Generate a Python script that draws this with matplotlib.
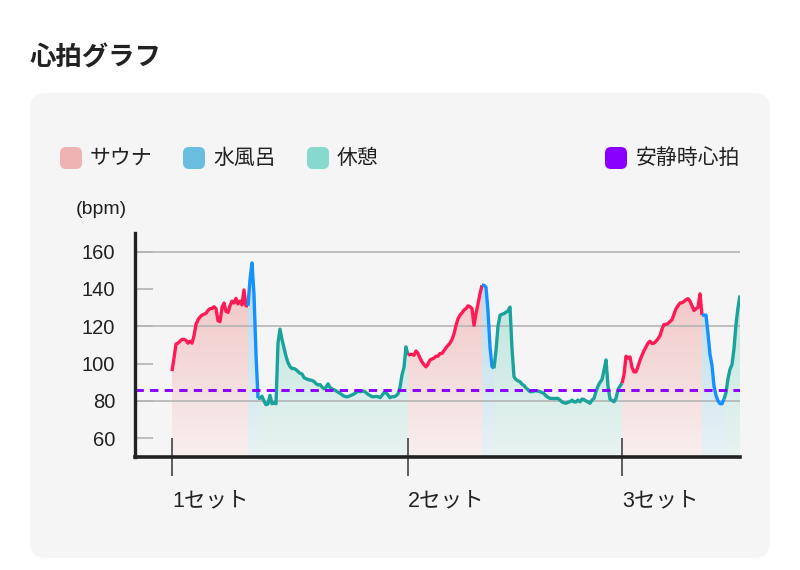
import numpy as np
import matplotlib
matplotlib.use("Agg")
import matplotlib.pyplot as plt
from matplotlib.patches import FancyBboxPatch
from matplotlib.colors import to_rgb

plt.rcParams['font.family'] = ['Noto Sans CJK JP', 'DejaVu Sans']
plt.rcParams['lines.scale_dashes'] = False

# ---------------- data ----------------
title = "心拍グラフ"
phase_labels = {"sauna": "サウナ", "water": "水風呂", "rest": "休憩"}
resting_label = "安静時心拍"
unit_label = "(bpm)"
set_labels = ["1セット", "2セット", "3セット"]
resting_hr = 86
y_ticks = [60, 80, 100, 120, 140, 160]
grid_values = [80, 120, 160]

sauna1 = [96, 103, 110.5, 111, 112, 113, 113, 112.5, 111, 112, 111, 115, 121, 123.5,
          125, 126, 126.5, 127, 128.5, 129.5, 129.5, 130.5, 129.5, 123, 122.5, 130,
          132.5, 128, 127.5, 131, 133.5, 132.5, 135, 132, 133.5, 131.5, 139.5, 131]
water1 = [131, 145, 154, 137, 105]
rest1 = [81.5, 81.5, 82.5, 80, 78, 78.5, 83, 78.5, 79, 78.5, 111, 118.5, 113, 108.5,
         104, 100.5, 98.5, 97.4, 97.4, 96.8, 95.8, 94.8, 94.5, 92.5, 92, 91.5, 91.2,
         91, 90.5, 89.3, 88.6, 88.8, 87.5, 86.5, 87.3, 89.2, 87.3, 86.5, 86, 85.5,
         84.7, 84.1, 83.3, 82.6, 82.3, 82.3, 82.8, 83.2, 83.8, 84.5, 85.3, 85, 85.2,
         85.3, 84.5, 83.6, 83, 82.3, 82.3, 82.5, 82.3, 81.8, 83, 84.5, 84.5, 83.2,
         81.8, 82.3, 82.3, 82.8, 83.8, 87.3, 94, 98, 109]
sauna2 = [104.5, 105, 105, 104.5, 106.8, 105.5, 103, 101, 99.5, 98.3, 99.8, 102, 102.5,
          103, 104, 104, 105.4, 105.5, 107, 108.5, 109.8, 111, 113, 116, 120.5, 124,
          126, 127.2, 128.7, 129.5, 131, 130.5, 129.5, 120.5, 126.8, 132, 137.5]
water2 = [142, 142, 141, 128, 109, 98.5]
rest2 = [97.5, 107, 120, 125.9, 126.5, 126.8, 127.6, 128.3, 130.3, 108, 93, 91.5, 90.8,
         90.3, 89, 88.3, 87, 86, 85, 85, 85.3, 85.5, 85.3, 85, 84.5, 84, 82.8, 82,
         81.4, 81.4, 81.3, 81.4, 81.4, 80.5, 79.5, 79, 78.8, 79.3, 79.6, 80.5, 79.5,
         79.5, 80.5, 79.6, 81, 80.8, 80, 79.5, 78.8, 80.5, 81.4, 85, 88, 90, 91.5,
         96.5, 102, 88, 81, 80.3, 79.6, 81.4, 86, 88]
sauna3 = [89.5, 94, 104, 103, 103.6, 98, 95.6, 95.6, 98.5, 101.9, 104.5, 107, 109, 111,
          112, 110.8, 111, 112, 113.3, 115, 118.5, 121, 121, 121.5, 122.6, 123.5, 126.5,
          129.4, 131, 132.5, 132.6, 133.3, 134.3, 134.8, 133.5, 131, 128.5, 129.4,
          130.2, 137.4]
water3 = [126, 126, 126, 116, 105, 99, 88, 83, 80, 78.6, 78.5]
rest3 = [81, 84.5, 92, 97, 99.5, 108, 121, 130, 136.5]

sequence = [("sauna", sauna1), ("water", water1), ("rest", rest1),
            ("sauna", sauna2), ("water", water2), ("rest", rest2),
            ("sauna", sauna3), ("water", water3), ("rest", rest3)]

# ---------------- style ----------------
line_colors = {"sauna": "#ff1a55", "water": "#1590ff", "rest": "#1aa39c"}
swatch_colors = {"sauna": "#f0b3b3", "water": "#6bbde0", "rest": "#86d9cc"}
grad_colors = {"sauna": ("#efbaba", "#f8efef"),
               "water": ("#acd6ea", "#e9f2f5"),
               "rest": ("#aee0d6", "#e9f3f1")}
resting_color = "#8a00ff"
YMIN, YMAX = 50, 170

W, H = 800, 570
fig = plt.figure(figsize=(W / 100, H / 100), dpi=100)
fig.patch.set_facecolor("white")

# card background
card = FancyBboxPatch((0.30, (H - 558) / 100), 7.40, 4.65,
                      boxstyle="round,pad=0,rounding_size=0.16",
                      transform=fig.dpi_scale_trans, facecolor="#f5f5f5",
                      edgecolor="none", zorder=0)
fig.add_artist(card)

fig.text(30 / W, 1 - 58 / H, title, fontsize=19, fontweight="bold",
         color="#222222", va="center", ha="left")

# legend
def swatch(px, color):
    p = FancyBboxPatch((px / 100, (H - 169) / 100), 0.22, 0.22,
                       boxstyle="round,pad=0,rounding_size=0.06",
                       transform=fig.dpi_scale_trans, facecolor=color,
                       edgecolor="none")
    fig.add_artist(p)

for key, sx, tx in [("sauna", 60, 90), ("water", 183, 213), ("rest", 307, 337)]:
    swatch(sx, swatch_colors[key])
    fig.text(tx / W, 1 - 158 / H, phase_labels[key], fontsize=15, color="#222222",
             va="center", ha="left")
swatch(605, resting_color)
fig.text(636 / W, 1 - 158 / H, resting_label, fontsize=15, color="#222222",
         va="center", ha="left")

fig.text(76 / W, 1 - 210 / H, unit_label, fontsize=14, color="#222222",
         va="center", ha="left", family=["Liberation Sans", "DejaVu Sans"])

# axes
ax = fig.add_axes([134.5 / W, (H - 457) / H, (740 - 134.5) / W, (457 - 233) / H])
ax.set_facecolor("none")

starts = np.concatenate([[0], np.cumsum([len(v) for _, v in sequence])])
set_starts = [starts[i] for i, (k, _) in enumerate(sequence) if k == "sauna"]
x_end = starts[-1] - 1
x_left = -18.75

for i, (kind, vals) in enumerate(sequence):
    x = starts[i] + np.arange(len(vals))
    y = np.array(vals, dtype=float)
    if i + 1 < len(sequence):
        x = np.append(x, starts[i + 1])
        y = np.append(y, sequence[i + 1][1][0])
    # gradient fill
    c_top, c_bot = to_rgb(grad_colors[kind][0]), to_rgb(grad_colors[kind][1])
    t = np.linspace(0, 1, 256)[:, None]
    grad = (1 - t) * np.array(c_top) + t * np.array(c_bot)
    grad = grad[:, None, :]
    poly = ax.fill_between(x, y, YMIN, facecolor="none", edgecolor="none")
    im = ax.imshow(grad, extent=[x[0], x[-1], YMIN, YMAX], origin="upper",
                   aspect="auto", zorder=1, interpolation="bilinear")
    im.set_clip_path(poly.get_paths()[0], ax.transData)
    ax.plot(x, y, color=line_colors[kind], lw=2.4, zorder=4,
            solid_joinstyle="round", solid_capstyle="butt")

for gv in grid_values:
    ax.axhline(gv, color="#b4b4b4", lw=1.2, zorder=2)

ax.axhline(resting_hr, color=resting_color, lw=2.1, ls=(0, (6, 4.5)), zorder=5)

ax.set_xlim(x_left, x_end)
ax.set_ylim(YMIN, YMAX)

ax.set_yticks(y_ticks)
ax.set_yticklabels([str(v) for v in y_ticks], family=["Liberation Sans", "DejaVu Sans"])
ax.tick_params(axis="y", direction="in", length=12.75, width=1.2, color="#b4b4b4",
               labelcolor="#222222", labelsize=14.5, pad=14)

ax.set_xticks(set_starts)
ax.set_xticklabels(set_labels, family=["Liberation Sans", "Noto Sans CJK JP"],
                   ha="left")
ax.tick_params(axis="x", direction="inout", length=27.75, width=1.1, color="#333333",
               labelcolor="#222222", labelsize=15.5, pad=10)

for s in ["top", "right"]:
    ax.spines[s].set_visible(False)
ax.spines["left"].set_linewidth(2.4)
ax.spines["bottom"].set_linewidth(2.6)
ax.spines["left"].set_color("#222222")
ax.spines["bottom"].set_color("#222222")
ax.spines["bottom"].set_zorder(6)
ax.spines["left"].set_zorder(6)

fig.savefig("out.png", dpi=100)
